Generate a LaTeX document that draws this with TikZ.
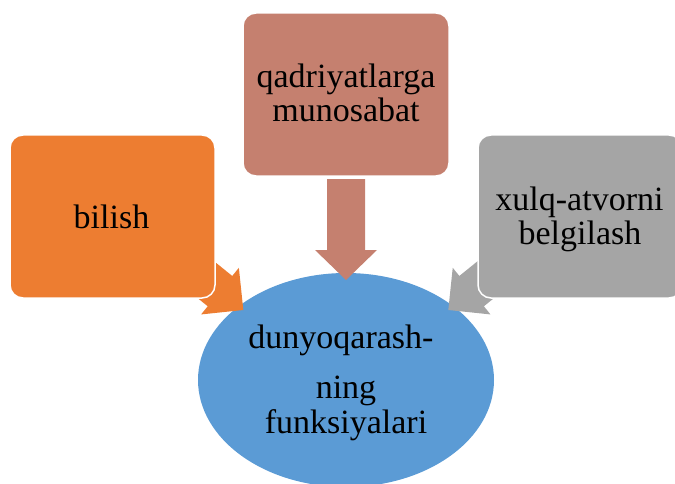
\documentclass[tikz,border=0pt]{standalone}
\usepackage{fontspec}
\setmainfont{Liberation Serif}
\usetikzlibrary{shapes.geometric}
\definecolor{corange}{HTML}{ED7D31}
\definecolor{cbrown}{HTML}{C5806F}
\definecolor{cgray}{HTML}{A5A5A5}
\definecolor{cblue}{HTML}{5B9BD5}
\begin{document}
\begin{tikzpicture}[x=1pt,y=1pt,
  box/.style={rounded corners=13pt, draw=white, line width=1.5pt, minimum height=163pt, inner sep=0pt},
  lbl/.style={font=\fontsize{34}{34}\selectfont, inner sep=0pt, anchor=base, text=black},
  blockarrow/.style={fill=#1, draw=none}
]
\useasboundingbox (0,0) rectangle (675,483);
\clip (0,0) rectangle (675,483);
% central ellipse
\node[ellipse, fill=cblue, draw=none, minimum width=296pt, minimum height=214pt, inner sep=0pt] (e) at (346,103) {};
% arrow tips
\coordinate (tipL) at (243.3,173);
\coordinate (tipM) at (346,203);
\coordinate (tipR) at (448.3,173);
% block arrows
\begin{scope}[shift={(tipL)}, rotate=-39]
  \fill[blockarrow=corange] (0,0) -- (-30,30) -- (-30,19.5) -- (-95,19.5) -- (-95,-19.5) -- (-30,-19.5) -- (-30,-30) -- cycle;
\end{scope}
\begin{scope}[shift={(tipR)}, rotate=219]
  \fill[blockarrow=cgray] (0,0) -- (-30,30) -- (-30,19.5) -- (-95,19.5) -- (-95,-19.5) -- (-30,-19.5) -- (-30,-30) -- cycle;
\end{scope}
\begin{scope}[shift={(tipM)}, rotate=-90]
  \fill[blockarrow=cbrown] (0,0) -- (-30,31) -- (-30,19) -- (-101,19) -- (-101,-19) -- (-30,-19) -- (-30,-31) -- cycle;
\end{scope}
% boxes
\node[box, fill=corange, minimum width=205pt] (bl) at (112.5,266.5) {};
\node[box, fill=cbrown, minimum width=206pt] (bm) at (346,388.5) {};
\node[box, fill=cgray, minimum width=204pt] (br) at (580,266.5) {};
% texts
\node[lbl] (t1) at (111.5,255) {bilish};
\node[lbl] (t2) at (346,395) {qadriyatlarga};
\node[lbl] (t3) at (346,361) {munosabat};
\node[lbl] (t4) at (579.5,273) {xulq-atvorni};
\node[lbl] (t5) at (580,239) {belgilash};
\node[lbl] (t6) at (341,135) {dunyoqarash-};
\node[lbl] (t7) at (346,85) {ning};
\node[lbl] (t8) at (346,50) {funksiyalari};
\end{tikzpicture}
\end{document}
